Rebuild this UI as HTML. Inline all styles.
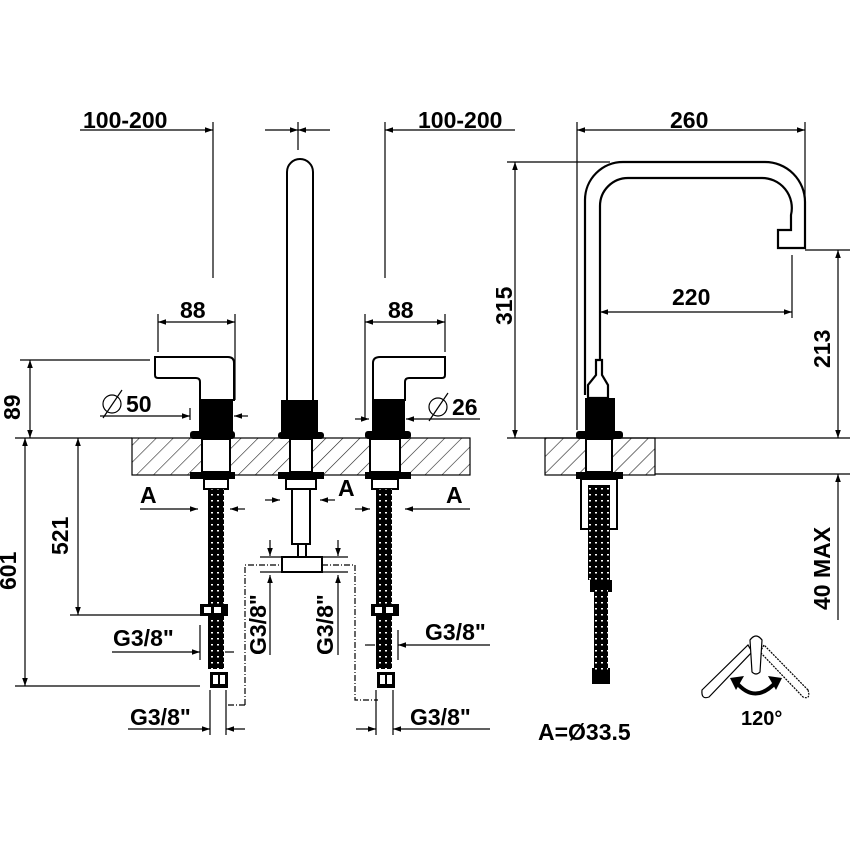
<!DOCTYPE html>
<html><head><meta charset="utf-8"><style>
html,body{margin:0;padding:0;background:#fff}
svg{display:block}
text{font-family:"Liberation Sans",Arial,sans-serif;font-weight:bold;fill:#000}
</style></head><body>
<svg width="850" height="850" viewBox="0 0 850 850" xmlns="http://www.w3.org/2000/svg">
<defs>
<marker id="a" viewBox="0 0 10 10" refX="10" refY="5" markerWidth="11" markerHeight="8" orient="auto-start-reverse" markerUnits="userSpaceOnUse"><path d="M0,1.5 L10,5 L0,8.5 z" fill="#000"/></marker>
<pattern id="h" width="12" height="12" patternUnits="userSpaceOnUse" patternTransform="rotate(45)"><line x1="0" y1="0" x2="0" y2="12" stroke="#222" stroke-width="1.2"/></pattern>
<pattern id="hose" width="6" height="6" patternUnits="userSpaceOnUse"><rect width="6" height="6" fill="#000"/><rect x="1" y="2" width="2" height="1.5" fill="#fff"/></pattern>
</defs>
<g stroke="#000" stroke-width="1.2" fill="none">
<line x1="80" y1="130" x2="213" y2="130" marker-end="url(#a)"/>
<line x1="298" y1="130" x2="330" y2="130" marker-start="url(#a)"/>
<line x1="265" y1="130" x2="298" y2="130" marker-end="url(#a)"/>
<line x1="385" y1="130" x2="515" y2="130" marker-start="url(#a)"/>
<line x1="213" y1="122" x2="213" y2="278"/>
<line x1="298" y1="122" x2="298" y2="150"/>
<line x1="385" y1="122" x2="385" y2="278"/>
<line x1="158" y1="322" x2="235" y2="322" marker-start="url(#a)" marker-end="url(#a)"/>
<line x1="158" y1="314" x2="158" y2="352"/><line x1="235" y1="314" x2="235" y2="400"/>
<line x1="365" y1="322" x2="445" y2="322" marker-start="url(#a)" marker-end="url(#a)"/>
<line x1="365" y1="314" x2="365" y2="420"/><line x1="445" y1="314" x2="445" y2="352"/>
<line x1="20" y1="360" x2="150" y2="360"/>
<line x1="30" y1="360" x2="30" y2="438" marker-start="url(#a)" marker-end="url(#a)"/>
<line x1="15" y1="438" x2="132" y2="438"/>
<line x1="25" y1="438" x2="25" y2="686" marker-start="url(#a)" marker-end="url(#a)"/>
<line x1="78" y1="438" x2="78" y2="615" marker-start="url(#a)" marker-end="url(#a)"/>
<line x1="70" y1="615" x2="200" y2="615"/>
<line x1="15" y1="686" x2="200" y2="686"/>
<line x1="100" y1="416" x2="190" y2="416" marker-end="url(#a)"/>
<line x1="248" y1="416" x2="234" y2="416" marker-end="url(#a)"/>
<line x1="190" y1="408" x2="190" y2="420"/>
<line x1="355" y1="419" x2="369" y2="419" marker-end="url(#a)"/>
<line x1="480" y1="419" x2="406" y2="419" marker-end="url(#a)"/>
<line x1="140" y1="509" x2="198" y2="509" marker-end="url(#a)"/>
<line x1="245" y1="509" x2="230" y2="509" marker-end="url(#a)"/>
<line x1="265" y1="500" x2="280" y2="500" marker-end="url(#a)"/>
<line x1="335" y1="500" x2="320" y2="500" marker-end="url(#a)"/>
<line x1="355" y1="509" x2="370" y2="509" marker-end="url(#a)"/>
<line x1="470" y1="509" x2="405" y2="509" marker-end="url(#a)"/>
<rect x="132" y="438" width="338" height="37" fill="url(#h)"/>
<g stroke-width="2">
<path d="M287,430 V172 A13,13 0 0 1 313,172 V430" fill="#fff"/>
<path d="M155,357 H228 Q234,357 234,363 V400 H200 V382 Q200,378 196,378 H158 Q155,378 155,375 Z" fill="#fff"/>
<path d="M445,357 H380 Q373,357 373,363 V400 H405 V382 Q405,378 409,378 H442 Q445,378 445,375 Z" fill="#fff"/>
</g>
</g>
<g fill="#000">
<rect x="199" y="400" width="34" height="32"/>
<rect x="372" y="400" width="33" height="32"/>
<rect x="281" y="400" width="37" height="32"/>
<rect x="190" y="431" width="45" height="8" rx="3"/>
<rect x="278" y="432" width="46" height="7" rx="3"/>
<rect x="365" y="431" width="46" height="8" rx="3"/>
<rect x="190" y="472" width="45" height="7"/>
<rect x="278" y="472" width="46" height="7"/>
<rect x="365" y="472" width="46" height="7"/>
</g>
<g stroke="#000" stroke-width="2" fill="#fff">
<rect x="202" y="439" width="28" height="33"/><rect x="370" y="439" width="30" height="33"/>
<rect x="290" y="439" width="22" height="33"/>
<rect x="204" y="479" width="24" height="10"/><rect x="372" y="479" width="26" height="10"/>
<rect x="286" y="479" width="30" height="10"/>
<rect x="292" y="489" width="18" height="55"/>
<rect x="282" y="557" width="40" height="15"/>
<rect x="298" y="544" width="8" height="13"/>
</g>
<rect x="208" y="489" width="16" height="180" fill="url(#hose)"/>
<rect x="376" y="489" width="16" height="180" fill="url(#hose)"/>
<g fill="#000"><rect x="200" y="604" width="28" height="12"/><rect x="371" y="604" width="28" height="12"/>
<rect x="210" y="672" width="18" height="16"/><rect x="377" y="672" width="18" height="16"/></g>
<g fill="#fff"><rect x="204" y="607" width="7" height="6"/><rect x="214" y="607" width="7" height="6"/><rect x="375" y="607" width="7" height="6"/><rect x="386" y="607" width="7" height="6"/>
<rect x="213" y="675" width="5" height="9"/><rect x="220" y="675" width="5" height="9"/><rect x="380" y="675" width="5" height="9"/><rect x="387" y="675" width="5" height="9"/></g>
<g stroke="#000" stroke-width="1.2" fill="none">
<path d="M245,705 V565 H280 M322,565 H355 V700 H378" stroke-dasharray="6,2,1,2"/>
<path d="M245,705 H228" stroke-dasharray="6,2,1,2"/>
<line x1="270" y1="540" x2="270" y2="556" marker-end="url(#a)"/>
<line x1="270" y1="655" x2="270" y2="575" marker-end="url(#a)"/>
<line x1="338" y1="540" x2="338" y2="556" marker-end="url(#a)"/>
<line x1="338" y1="655" x2="338" y2="575" marker-end="url(#a)"/>
<line x1="260" y1="557" x2="285" y2="557"/><line x1="260" y1="572" x2="285" y2="572"/>
<line x1="320" y1="557" x2="348" y2="557"/><line x1="320" y1="572" x2="348" y2="572"/>
<line x1="112" y1="652" x2="200" y2="652" marker-end="url(#a)"/>
<line x1="234" y1="652" x2="225" y2="652"/>
<line x1="200" y1="625" x2="200" y2="660"/>
<line x1="365" y1="645" x2="375" y2="645"/>
<line x1="490" y1="645" x2="398" y2="645" marker-end="url(#a)"/>
<line x1="398" y1="630" x2="398" y2="660"/>
<line x1="128" y1="729" x2="210" y2="729" marker-end="url(#a)"/>
<line x1="245" y1="729" x2="226" y2="729" marker-end="url(#a)"/>
<line x1="210" y1="690" x2="210" y2="735"/><line x1="226" y1="690" x2="226" y2="735"/>
<line x1="356" y1="729" x2="376" y2="729" marker-end="url(#a)"/>
<line x1="490" y1="729" x2="393" y2="729" marker-end="url(#a)"/>
<line x1="376" y1="690" x2="376" y2="735"/><line x1="393" y1="690" x2="393" y2="735"/>
</g>
<g stroke="#000" stroke-width="1.2" fill="none">
<line x1="577" y1="130" x2="805" y2="130" marker-start="url(#a)" marker-end="url(#a)"/>
<line x1="577" y1="122" x2="577" y2="430"/>
<line x1="805" y1="122" x2="805" y2="240"/>
<line x1="507" y1="162" x2="610" y2="162"/>
<line x1="515" y1="162" x2="515" y2="438" marker-start="url(#a)" marker-end="url(#a)"/>
<line x1="507" y1="438" x2="850" y2="438"/>
<line x1="600" y1="312" x2="792" y2="312" marker-start="url(#a)" marker-end="url(#a)"/>
<line x1="600" y1="300" x2="600" y2="360"/>
<line x1="792" y1="255" x2="792" y2="318"/>
<line x1="805" y1="250" x2="850" y2="250"/>
<line x1="838" y1="250" x2="838" y2="438" marker-start="url(#a)" marker-end="url(#a)"/>
<line x1="655" y1="474" x2="850" y2="474"/>
<line x1="838" y1="474" x2="838" y2="620" marker-start="url(#a)"/>
<rect x="545" y="438" width="110" height="37" fill="url(#h)"/>
<g stroke-width="2.2">
<path d="M585,395 V200 A38,38 0 0 1 623,162 H765 A40,40 0 0 1 805,202 V248 H778 V230 H791 V215 A30,30 0 0 0 761,178 H628 A28,28 0 0 0 600,206 V360" fill="none"/>
<path d="M596,360 H602 V375 L608,385 V398 H588 V385 L596,375 Z" fill="#fff"/>
</g>
</g>
<g fill="#000">
<rect x="585" y="398" width="30" height="34"/>
<rect x="576" y="431" width="47" height="8" rx="3"/>
<rect x="576" y="472" width="47" height="7"/>
<rect x="590" y="580" width="22" height="12"/>
<rect x="592" y="668" width="18" height="16"/>
</g>
<g stroke="#000" stroke-width="2" fill="#fff">
<rect x="586" y="439" width="26" height="33"/>
<rect x="581" y="479" width="36" height="50"/>
</g>
<rect x="588" y="485" width="22" height="95" fill="url(#hose)"/>
<rect x="594" y="590" width="14" height="80" fill="url(#hose)"/>
<g stroke="#000" stroke-width="1.2" fill="#fff">
<path d="M702,690 L748,645 L752,652 L709,697 Q701,700 702,690 Z"/>
<path d="M808,690 L764,645 L760,652 L803,697 Q811,700 808,690 Z" stroke-dasharray="2,1"/>
<path d="M750,640 Q756,632 762,640 L760,672 Q756,676 752,672 Z"/>
</g>
<path d="M736,682 Q755,705 776,682" stroke="#000" stroke-width="4" fill="none"/>
<path d="M730,678 L744,676 L736,690 Z M782,678 L768,676 L776,690 Z" fill="#000"/>
<g font-size="23">
<text x="83" y="128">100-200</text>
<text x="418" y="128">100-200</text>
<text x="180" y="318">88</text>
<text x="388" y="318">88</text>
<text x="670" y="128">260</text>
<text x="672" y="305">220</text>
<text x="126" y="412">50</text>
<text x="452" y="415">26</text>
<text x="140" y="503">A</text>
<text x="338" y="496">A</text>
<text x="446" y="503">A</text>
<text x="113" y="646">G3/8"</text>
<text x="425" y="640">G3/8"</text>
<text x="130" y="725">G3/8"</text>
<text x="410" y="725">G3/8"</text>
<text x="538" y="740">A=Ø33.5</text>
<text transform="translate(20,420) rotate(-90)">89</text>
<text transform="translate(16,590) rotate(-90)">601</text>
<text transform="translate(68,555) rotate(-90)">521</text>
<text transform="translate(266,655) rotate(-90)">G3/8"</text>
<text transform="translate(333,655) rotate(-90)">G3/8"</text>
<text transform="translate(512,325) rotate(-90)">315</text>
<text transform="translate(830,368) rotate(-90)">213</text>
<text transform="translate(830,610) rotate(-90)">40 MAX</text>
</g>
<text x="741" y="725" font-size="20">120°</text>
<g fill="none" stroke="#000" stroke-width="1.2"><circle cx="112" cy="404" r="9"/><line x1="103" y1="418" x2="122" y2="390"/>
<circle cx="438" cy="407" r="9"/><line x1="429" y1="421" x2="448" y2="393"/></g>
</svg>
</body></html>
